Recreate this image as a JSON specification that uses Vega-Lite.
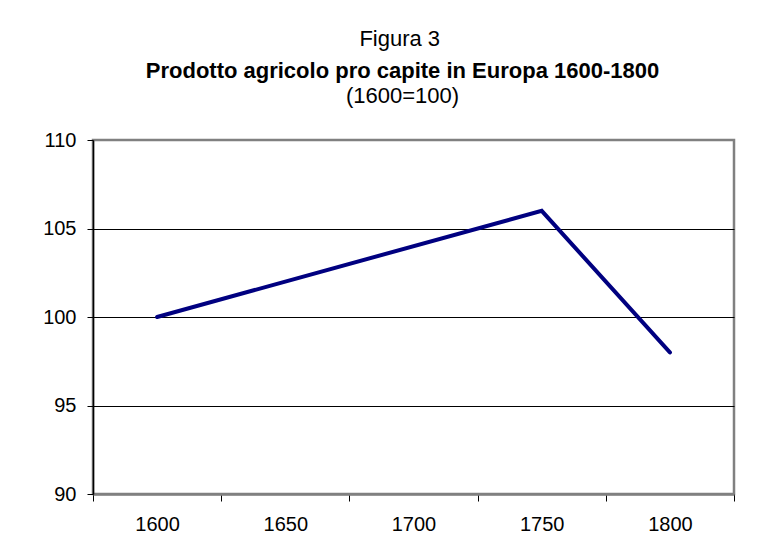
{
  "$schema": "https://vega.github.io/schema/vega-lite/v6.json",
  "background": "white",
  "padding": {"left": 31, "top": 27, "right": 30, "bottom": 5},
  "title": {
    "text": "Figura 3",
    "fontSize": 22,
    "fontWeight": "normal",
    "font": "Liberation Sans",
    "color": "black",
    "anchor": "middle",
    "dx": 16,
    "offset": 8
  },
  "vconcat": [
    {
      "width": 641,
      "height": 354,
      "title": {
        "text": "Prodotto agricolo pro capite in Europa 1600-1800",
        "subtitle": "(1600=100)",
        "font": "Liberation Sans",
        "fontSize": 22,
        "fontWeight": "bold",
        "color": "black",
        "subtitleFont": "Liberation Sans",
        "subtitleFontSize": 22,
        "subtitleColor": "black",
        "subtitlePadding": 3,
        "anchor": "middle",
        "frame": "group",
        "dx": -11,
        "offset": 22
      },
      "data": {
        "values": [
          {"anno": "1600", "valore": 100},
          {"anno": "1750", "valore": 106},
          {"anno": "1800", "valore": 98}
        ]
      },
      "mark": {"type": "line", "color": "#000080", "strokeWidth": 4, "strokeCap": "round"},
      "encoding": {
        "x": {
          "field": "anno",
          "type": "ordinal",
          "scale": {
            "type": "band",
            "domain": ["1600", "1650", "1700", "1750", "1800"],
            "paddingInner": 0,
            "paddingOuter": 0
          },
          "axis": {
            "title": null,
            "labelAngle": 0,
            "tickBand": "extent",
            "tickSize": 7,
            "tickColor": "black",
            "tickWidth": 1,
            "domainColor": "#808080",
            "domainWidth": 2.5,
            "labelFontSize": 20,
            "labelPadding": 13,
            "labelColor": "black",
            "grid": false
          }
        },
        "y": {
          "field": "valore",
          "type": "quantitative",
          "scale": {"domain": [90, 110], "nice": false, "zero": false},
          "axis": {
            "title": null,
            "values": [90, 95, 100, 105, 110],
            "domainColor": "black",
            "domainWidth": 1.5,
            "tickSize": 6,
            "tickColor": "black",
            "tickWidth": 1,
            "grid": true,
            "gridColor": {
              "condition": {"test": "datum.value == 110 || datum.value == 90", "value": "transparent"},
              "value": "black"
            },
            "gridWidth": 1,
            "labelFontSize": 20,
            "labelPadding": 11,
            "labelColor": "black",
            "minExtent": 60,
            "maxExtent": 60
          }
        }
      }
    }
  ],
  "config": {
    "font": "Liberation Sans",
    "view": {"stroke": "#808080", "strokeWidth": 2.5},
    "axis": {"labelFont": "Liberation Sans"}
  }
}
